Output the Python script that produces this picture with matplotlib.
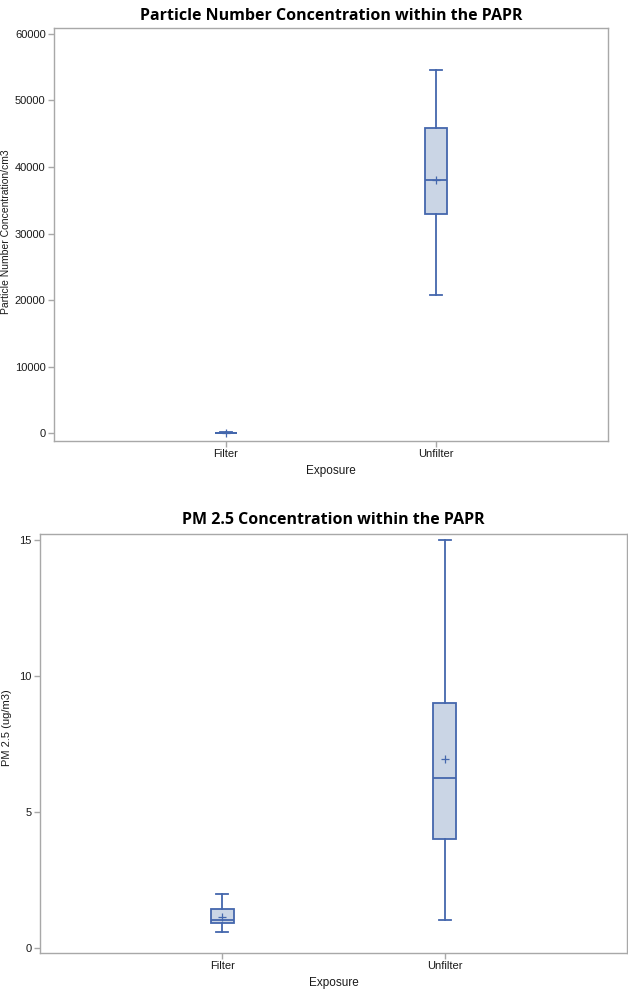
import matplotlib
matplotlib.use("Agg")
import matplotlib.pyplot as plt

categories = ["Filter", "Unfilter"]

# Particle number concentration (per cm3)
pn_whislo = [0, 20800]
pn_q1 = [10, 33000]
pn_med = [20, 38000]
pn_q3 = [40, 45900]
pn_whishi = [80, 54600]
pn_mean = [25, 38000]

# PM 2.5 (ug/m3)
pm_whislo = [0.58, 1.02]
pm_q1 = [0.93, 4.0]
pm_med = [1.02, 6.25]
pm_q3 = [1.42, 9.02]
pm_whishi = [1.98, 15.0]
pm_mean = [1.13, 6.95]

pn_ticks = [0, 10000, 20000, 30000, 40000, 50000, 60000]
pm_ticks = [0, 5, 10, 15]

FILL = "#CAD5E5"
EDGE = "#4467AD"
FRAME = "#A8A8A8"
TEXTC = "#1a1a1a"

plt.rcParams["font.family"] = ["Liberation Sans", "DejaVu Sans"]

fig = plt.figure(figsize=(6.28, 9.92), dpi=100)


def make_stats(wl, q1, med, q3, wh, mean):
    out = []
    for i in range(len(categories)):
        out.append(dict(whislo=wl[i], q1=q1[i], med=med[i], q3=q3[i],
                        whishi=wh[i], mean=mean[i], fliers=[]))
    return out


def draw(ax, stats, ticks, ylim):
    ax.bxp(stats, positions=[1, 2], widths=0.105, patch_artist=True,
           showmeans=True, showfliers=False,
           boxprops=dict(facecolor=FILL, edgecolor=EDGE, linewidth=1.3),
           whiskerprops=dict(color=EDGE, linewidth=1.3),
           capprops=dict(color=EDGE, linewidth=1.3),
           medianprops=dict(color=EDGE, linewidth=1.3),
           meanprops=dict(marker="+", markeredgecolor=EDGE, markersize=6,
                          markeredgewidth=0.9),
           capwidths=0.055)
    ax.set_xlim(0.181, 2.819)
    ax.set_ylim(*ylim)
    ax.set_xticks([1, 2])
    ax.set_xticklabels(categories)
    ax.set_yticks(ticks)
    ax.set_yticklabels([str(t) for t in ticks])
    for s in ax.spines.values():
        s.set_color(FRAME)
        s.set_linewidth(1.0)
    ax.tick_params(axis="both", colors=FRAME, labelcolor=TEXTC,
                   labelsize=8, length=4, width=1.0, pad=2)
    ax.set_xlabel("Exposure", fontsize=8.5, color=TEXTC, labelpad=4)


ax1 = fig.add_axes([54 / 628, 1 - 441 / 992, 554 / 628, 413 / 992])
draw(ax1, make_stats(pn_whislo, pn_q1, pn_med, pn_q3, pn_whishi, pn_mean),
     pn_ticks, (-1200, 60900))
ax1.set_title("Particle Number Concentration within the PAPR",
              fontsize=11.5, fontweight="bold", family="Open Sans", pad=6)
fig.text(6 / 628, 1 - 232 / 992, "Particle Number Concentration/cm3",
         rotation=90, fontsize=7.5, color=TEXTC, ha="center", va="center")

ax2 = fig.add_axes([40 / 628, 1 - 953 / 992, 587 / 628, 419 / 992])
draw(ax2, make_stats(pm_whislo, pm_q1, pm_med, pm_q3, pm_whishi, pm_mean),
     pm_ticks, (-0.19, 15.22))
ax2.set_title("PM 2.5 Concentration within the PAPR",
              fontsize=11.5, fontweight="bold", family="Open Sans", pad=7)
fig.text(7 / 628, 1 - 728 / 992, "PM 2.5 (ug/m3)",
         rotation=90, fontsize=8, color=TEXTC, ha="center", va="center")

fig.savefig("out.png", dpi=100)
